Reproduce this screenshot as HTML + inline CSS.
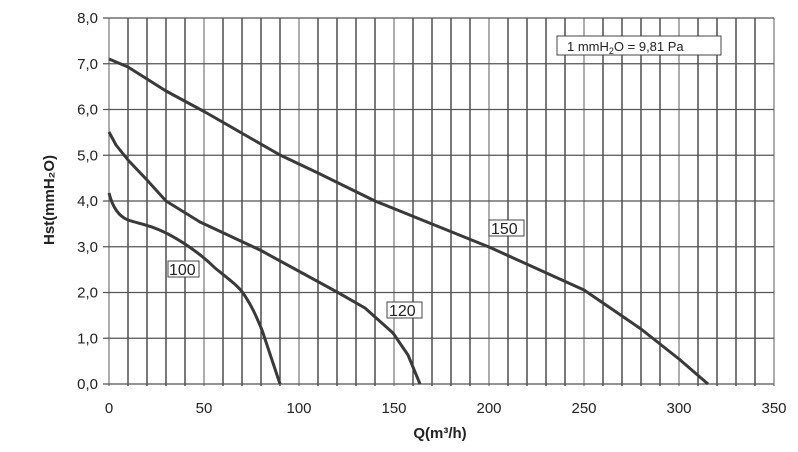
<!DOCTYPE html><html><head><style>body{margin:0;background:#fff}</style></head><body>
<svg width="798" height="447" xmlns="http://www.w3.org/2000/svg" font-family="Liberation Sans, sans-serif">
<g id="grid" stroke="#222" stroke-width="1.2"></g>
<g font-size="15" fill="#222" text-anchor="end" id="yl"></g>
<g font-size="15" fill="#222" text-anchor="middle" id="xl"></g>
<g fill="none" stroke="#3a3a3a" stroke-width="3" stroke-linejoin="round">
<path d="M109,59 L128,67 L166,91 L205,112 L280,155 L318,173 L375,201 L432,224 L489,247 L584,290 L641,329 L679,359 L708,384"/>
<path d="M109,132 L116,145 L128,160 L147,180 L166,201 L200,222 L260,250 L337,292 L365,308 L393,333 L408,355 L420,384"/>
<path d="M109,193 C112,205 118,216 128,220 C140,224 150,225 166,233 C180,240 200,253 215,268 C230,280 238,286 243,293 C252,306 257,318 262,330 L280,384"/>
</g>
<g font-size="16" fill="#222">
<rect x="168" y="261" width="31" height="16" fill="#fff" stroke="#444"/><text x="169" y="275">100</text>
<rect x="387" y="302" width="35" height="16" fill="#fff" stroke="#444"/><text x="389" y="316">120</text>
<rect x="489" y="220" width="35" height="16" fill="#fff" stroke="#444"/><text x="491" y="234">150</text>
<rect x="557" y="36" width="164" height="19" fill="#fff" stroke="#444"/>
<text x="567" y="51" font-size="13">1 mmH<tspan font-size="9" dy="3">2</tspan><tspan dy="-3">O = 9,81 Pa</tspan></text>
<text x="440" y="438" text-anchor="middle" font-weight="bold" font-size="15">Q(m³/h)</text>
<text transform="translate(54,200) rotate(-90)" text-anchor="middle" font-weight="bold" font-size="15">Hst(mmH₂O)</text>
</g>
</svg>
<script>
var ns="http://www.w3.org/2000/svg",g=document.getElementById('grid'),yl=document.getElementById('yl'),xl=document.getElementById('xl');
function el(p,t,a,txt){var e=document.createElementNS(ns,t);for(var k in a)e.setAttribute(k,a[k]);if(txt)e.textContent=txt;p.appendChild(e);}
for(var i=0;i<=35;i++){var x=109+i*665/35;el(g,'line',{x1:x,y1:18,x2:x,y2:386,stroke:i%5==0?'#777':'#222'});}
for(var j=0;j<=8;j++){var y=384-j*45.75;el(g,'line',{x1:103,y1:y,x2:774,y2:y,stroke:'#555'});el(yl,'text',{x:98,y:y+5},j+',0');}
for(var i=0;i<=7;i++){el(xl,'text',{x:109+i*95,y:413},String(i*50));}
</script>
</body></html>
